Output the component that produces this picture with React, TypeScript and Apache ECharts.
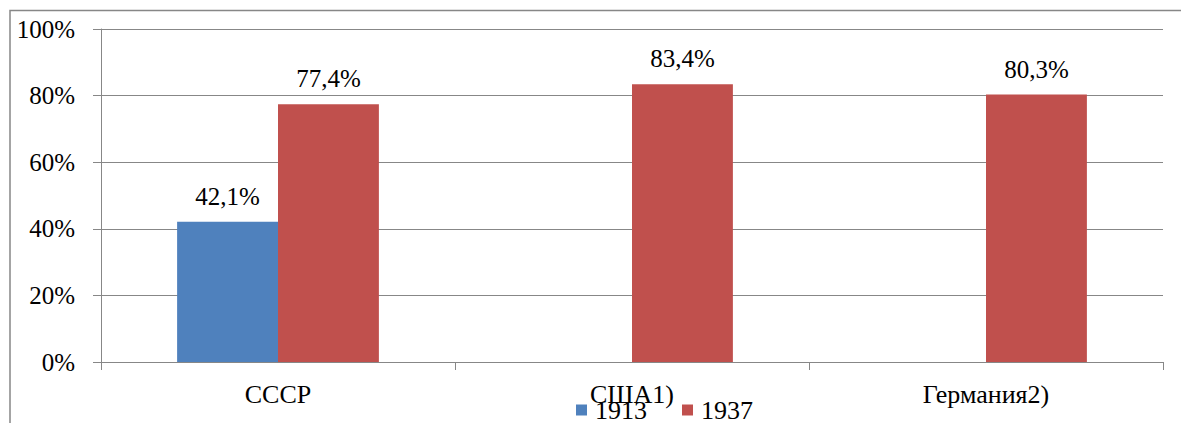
import React, { useEffect, useRef } from "react";
import * as echarts from "echarts";

const categories = ["СССР", "США1)", "Германия2)"];
const seriesNames = ["1913", "1937"];
const values1913: (number | null)[] = [42.1, null, null];
const values1937: (number | null)[] = [77.4, 83.4, 80.3];
const yTicks = { min: 0, max: 100, interval: 20 };

const FONT = "Liberation Serif";
const GRAY = "#878787";

const fmt = (v: number) => v.toFixed(1).replace(".", ",") + "%";

export default function App() {
  const ref = useRef<HTMLDivElement>(null);
  useEffect(() => {
    if (!ref.current) return;
    const chart = echarts.init(ref.current, undefined, { renderer: "svg" });
    const label = {
      show: true,
      position: "top" as const,
      distance: 13,
      fontFamily: FONT,
      fontSize: 25,
      color: "#000",
      formatter: (p: any) => fmt(p.value),
    };
    chart.setOption({
      animation: false,
      textStyle: { fontFamily: FONT },
      graphic: [
        {
          type: "rect",
          shape: { x: 10, y: 10.5, width: 1400, height: 600 },
          style: { fill: "none", stroke: GRAY, lineWidth: 1.5 },
          silent: true,
        },
      ],
      grid: { left: 101, right: 18, top: 29, bottom: 61, containLabel: false },
      legend: {
        left: 576,
        top: 397,
        padding: 0,
        itemWidth: 11,
        itemHeight: 11,
        itemGap: 35,
        icon: "rect",
        data: seriesNames,
        textStyle: { fontFamily: FONT, fontSize: 26, color: "#000", padding: [0, 0, 0, 3] },
      },
      xAxis: {
        type: "category",
        data: categories,
        axisLine: { show: true, lineStyle: { color: GRAY, width: 1 } },
        axisTick: { show: true, length: 8, lineStyle: { color: GRAY } },
        axisLabel: { fontFamily: FONT, fontSize: 26, color: "#000", margin: 19 },
        splitLine: { show: false },
      },
      yAxis: {
        type: "value",
        min: yTicks.min,
        max: yTicks.max,
        interval: yTicks.interval,
        axisLine: { show: true, lineStyle: { color: GRAY, width: 1 } },
        axisTick: { show: true, length: 8, lineStyle: { color: GRAY } },
        axisLabel: {
          fontFamily: FONT,
          fontSize: 25,
          color: "#000",
          margin: 26,
          formatter: "{value}%",
        },
        splitLine: { show: true, lineStyle: { color: GRAY, width: 1 } },
      },
      series: [
        {
          name: seriesNames[0],
          type: "bar",
          data: values1913,
          barGap: "0%",
          barCategoryGap: "43%",
          itemStyle: { color: "#4F81BD" },
          label,
        },
        {
          name: seriesNames[1],
          type: "bar",
          data: values1937,
          barGap: "0%",
          barCategoryGap: "43%",
          itemStyle: { color: "#C0504D" },
          label,
        },
      ],
    });
    return () => chart.dispose();
  }, []);
  return (
    <div
      ref={ref}
      style={{ position: "fixed", left: 0, top: 0, width: 1181, height: 423, background: "#fff" }}
    />
  );
}
